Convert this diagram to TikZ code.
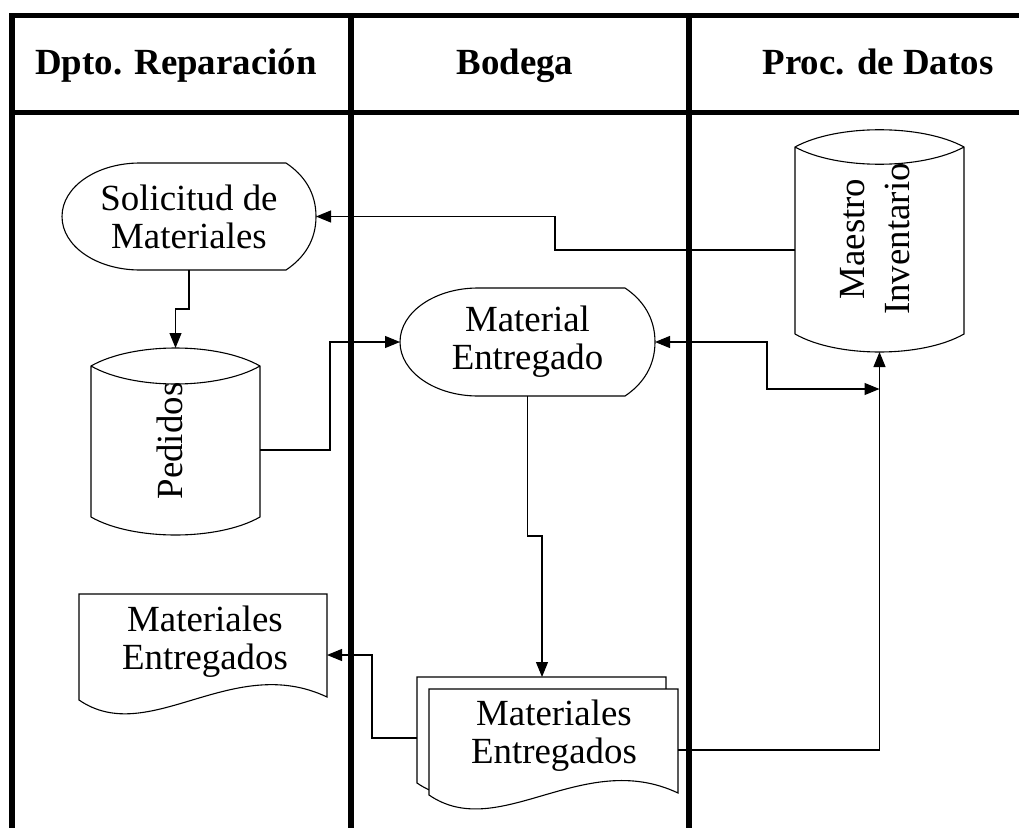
\documentclass[tikz,border=0pt]{standalone}
\usepackage{fontspec}
\setmainfont{Liberation Serif}
\usetikzlibrary{arrows.meta,calc}
\begin{document}
\begin{tikzpicture}[x=1bp,y=-1bp,
  lane/.style={line width=5.5bp, line join=miter},
  conn/.style={line width=1.1bp},
  arr/.style={conn,-{Triangle[length=15bp,width=12bp]}},
  darr/.style={conn,{Triangle[length=15bp,width=12bp]}-{Triangle[length=15bp,width=12bp]}},
  outline/.style={line width=1.1bp},
  box/.style={inner sep=0, outer sep=0},
  body/.style={font=\fontsize{37}{38}\selectfont, align=center, inner sep=0},
  hdr/.style={font=\bfseries\fontsize{37}{40}\selectfont, inner sep=0, anchor=base}]
\fill[white] (0,0) rectangle (1019,828);
\useasboundingbox (0,0) rectangle (1019,828);
% swimlane frame
\draw[lane] (1019,15.5) -- (12,15.5) -- (12,828);
\draw[lane] (12,112.5) -- (1019,112.5);
\draw[lane] (351,15.5) -- (351,828);
\draw[lane] (689,15.5) -- (689,828);
% headers
\node[hdr] (h1) at (176,74) {Dpto. Reparación};
\node[hdr] (h2) at (515,74) {Bodega};
\node[hdr] (h3) at (878,74) {Proc. de Datos};
% Solicitud de Materiales (display)
\node[box, body, minimum width=254bp, minimum height=107bp] (sol) at (189,216.5) {Solicitud de\\Materiales};
\draw[outline] ([shift={(78,0)}]sol.north west) -- ([shift={(-30,0)}]sol.north east)
  .. controls +(18,12) and +(0,-24) .. (sol.east)
  .. controls +(0,24) and +(18,-12) .. ([shift={(-30,0)}]sol.south east)
  -- ([shift={(78,0)}]sol.south west)
  .. controls +(-43,0) and +(0,30) .. (sol.west)
  .. controls +(0,-30) and +(-43,0) .. cycle;
% Material Entregado (display)
\node[box, body, minimum width=255bp, minimum height=108bp] (mat) at (527.5,342) {Material\\Entregado};
\draw[outline] ([shift={(78,0)}]mat.north west) -- ([shift={(-30,0)}]mat.north east)
  .. controls +(18,12) and +(0,-24) .. (mat.east)
  .. controls +(0,24) and +(18,-12) .. ([shift={(-30,0)}]mat.south east)
  -- ([shift={(78,0)}]mat.south west)
  .. controls +(-43,0) and +(0,30) .. (mat.west)
  .. controls +(0,-30) and +(-43,0) .. cycle;
% Pedidos (cylinder)
\node[box, minimum width=169bp, minimum height=151bp] (ped) at (175.5,441.5) {};
\draw[outline] (ped.south west) -- (ped.north west)
  .. controls +(42,-24) and +(-42,-24) .. (ped.north east) -- (ped.south east)
  .. controls +(-42,24) and +(42,24) .. (ped.south west)
  (ped.north west) .. controls +(42,24) and +(-42,24) .. (ped.north east);
\node[body, rotate=90] (pedt) at (170,441) {Pedidos};
% Maestro Inventario (cylinder)
\node[box, minimum width=169bp, minimum height=187bp] (mae) at (879.5,240.5) {};
\draw[outline] (mae.south west) -- (mae.north west)
  .. controls +(42,-23) and +(-42,-23) .. (mae.north east) -- (mae.south east)
  .. controls +(-42,24) and +(42,24) .. (mae.south west)
  (mae.north west) .. controls +(42,23) and +(-42,23) .. (mae.north east);
\node[body, rotate=90, font=\fontsize{37}{45}\selectfont] (maet) at (875,239) {Maestro\\Inventario};
% Materiales Entregados (document, left lane)
\node[box, minimum width=248bp, minimum height=106bp] (docL) at (203,647) {};
\draw[outline] (docL.south west) -- (docL.north west) -- (docL.north east)
  -- ([shift={(0,-3)}]docL.south east) .. controls +(-95,-45) and +(70,48) .. (docL.south west) -- cycle;
\node[body] (docLt) at (205,641.4) {Materiales\\Entregados};
% Materiales Entregados (multi-document, Bodega)
\node[box, minimum width=249bp, minimum height=106bp] (docR) at (553.5,742) {};
\draw[outline, fill=white] ([shift={(-12,-12)}]docR.south west) -- ([shift={(-12,-12)}]docR.north west)
  -- ([shift={(-12,-12)}]docR.north east) -- ([shift={(-12,-14)}]docR.south east)
  .. controls +(-95,-45) and +(70,48) .. ([shift={(-12,-12)}]docR.south west) -- cycle;
\draw[outline, fill=white] (docR.south west) -- (docR.north west) -- (docR.north east)
  -- ([shift={(0,-2)}]docR.south east) .. controls +(-95,-45) and +(70,48) .. (docR.south west) -- cycle;
\node[body] (docRt) at (554,735.4) {Materiales\\Entregados};
% connectors
\coordinate (j1) at ([shift={(0,55)}]mae.south);
\draw[arr] (sol.south) -- ++(0,39) -| ([shift={(0,-18)}]ped.north);
\draw[arr] ([shift={(0,8.5)}]ped.east) -- ++(70,0) |- (mat.west);
\draw[arr] ([shift={(0,9.5)}]mae.west) -- ++(-240,0) |- (sol.east);
\draw[darr] (mat.east) -- ++(112,0) |- (j1);
\draw[arr] ([shift={(0,8)}]docR.east) -| ([shift={(0,18)}]mae.south);
\draw[arr] ([shift={(-12,-4)}]docR.west) -- ++(-45,0) |- ([shift={(0,8)}]docL.east);
\draw[arr] (mat.south) -- ++(0,140) -| ([shift={(-11.5,-12)}]docR.north);
\end{tikzpicture}
\end{document}
